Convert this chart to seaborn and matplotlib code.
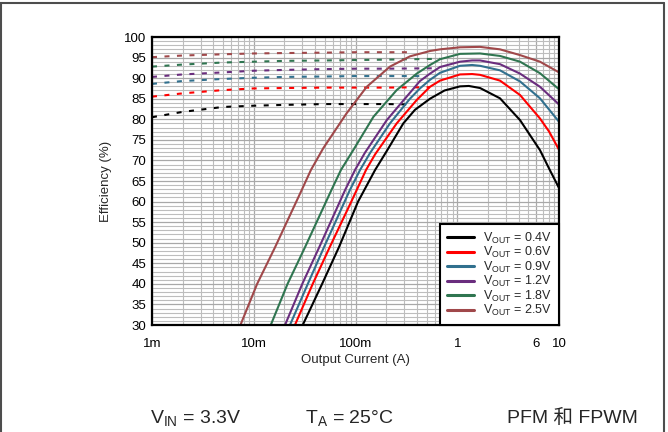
import numpy as np
import pandas as pd
import matplotlib
matplotlib.use("Agg")
import matplotlib.pyplot as plt
import seaborn as sns
from matplotlib.ticker import FixedLocator, LogLocator, NullFormatter, MultipleLocator
from matplotlib.lines import Line2D

# ---------------- data ----------------
series_names = ["0.4V", "0.6V", "0.9V", "1.2V", "1.8V", "2.5V"]
series_colors = ["#000000", "#FF0000", "#31708E", "#6A2D7E", "#2F7550", "#A0484A"]

# FPWM (solid) curves: current (A), efficiency (%)
i_04 = [0.0303, 0.047, 0.069, 0.106, 0.156, 0.203, 0.295, 0.384, 0.54, 0.75, 1.064, 1.3, 1.675, 2.63, 4.14, 6.5, 8.0, 10.0]
e_04 = [30, 40, 49, 60, 67.7, 72.3, 79.0, 82.3, 85.0, 87.0, 88.0, 88.1, 87.6, 85.1, 79.8, 72.5, 68.0, 63.3]

i_06 = [0.0254, 0.038, 0.056, 0.091, 0.127, 0.156, 0.254, 0.4, 0.54, 0.677, 1.064, 1.4, 1.675, 2.63, 4.14, 6.5, 8.0, 10.0]
e_06 = [30, 40, 49, 60, 67.7, 71.5, 79.0, 84.7, 87.9, 89.4, 90.9, 91.0, 90.8, 89.4, 85.9, 80.2, 77.0, 72.6]

i_09 = [0.0227, 0.034, 0.049, 0.088, 0.111, 0.139, 0.218, 0.343, 0.43, 0.54, 0.677, 1.064, 1.4, 1.675, 2.63, 4.14, 6.5, 10.0]
e_09 = [30, 40, 48.9, 62.8, 67.7, 71.8, 79.0, 85.0, 87.5, 89.6, 91.3, 93.0, 93.2, 93.0, 91.9, 89.2, 85.1, 79.4]

i_12 = [0.0203, 0.030, 0.044, 0.079, 0.099, 0.124, 0.203, 0.318, 0.43, 0.54, 0.677, 1.064, 1.4, 1.675, 2.63, 4.14, 6.5, 10.0]
e_12 = [30, 40, 48.9, 62.8, 67.7, 71.9, 79.8, 85.5, 89.3, 91.1, 92.7, 94.0, 94.3, 94.3, 93.4, 91.1, 87.9, 83.6]

i_18 = [0.0147, 0.0215, 0.0319, 0.058, 0.072, 0.095, 0.15, 0.254, 0.4, 0.54, 0.677, 1.064, 1.675, 2.63, 4.14, 6.5, 10.0]
e_18 = [30, 40, 48.9, 62.8, 67.7, 72.5, 80.6, 87.1, 91.1, 93.2, 94.6, 95.9, 96.0, 95.4, 94.0, 91.2, 87.3]

i_25 = [0.0074, 0.0108, 0.0162, 0.0296, 0.0365, 0.0483, 0.082, 0.129, 0.218, 0.343, 0.54, 0.677, 1.064, 1.675, 2.63, 4.14, 6.5, 10.0]
e_25 = [30, 40, 48.9, 62.8, 67.7, 73.0, 81.5, 87.9, 92.8, 95.3, 96.6, 97.0, 97.5, 97.6, 97.0, 95.6, 94.0, 91.4]

# PFM (dashed) curves
pfm_i_04 = [0.001, 0.002, 0.005, 0.01, 0.02, 0.05, 0.1, 0.2, 0.35]
pfm_e_04 = [80.5, 81.8, 83.0, 83.3, 83.5, 83.7, 83.7, 83.7, 83.6]
pfm_i_06 = [0.001, 0.002, 0.005, 0.01, 0.02, 0.05, 0.1, 0.2, 0.54]
pfm_e_06 = [85.5, 86.3, 87.1, 87.5, 87.6, 87.7, 87.7, 87.7, 87.8]
pfm_i_09 = [0.001, 0.002, 0.005, 0.01, 0.02, 0.05, 0.1, 0.2, 0.48]
pfm_e_09 = [88.6, 89.3, 89.8, 90.1, 90.3, 90.4, 90.5, 90.5, 90.5]
pfm_i_12 = [0.001, 0.002, 0.005, 0.01, 0.02, 0.05, 0.1, 0.2, 0.6]
pfm_e_12 = [90.3, 90.9, 91.4, 91.8, 92.0, 92.2, 92.3, 92.3, 92.4]
pfm_i_18 = [0.001, 0.002, 0.005, 0.01, 0.02, 0.05, 0.1, 0.2, 0.68]
pfm_e_18 = [92.8, 93.3, 93.8, 94.0, 94.2, 94.3, 94.4, 94.5, 94.7]
pfm_i_25 = [0.001, 0.002, 0.005, 0.01, 0.02, 0.05, 0.1, 0.2, 0.35]
pfm_e_25 = [95.1, 95.5, 95.8, 96.0, 96.1, 96.2, 96.3, 96.3, 96.3]

fpwm_i = [i_04, i_06, i_09, i_12, i_18, i_25]
fpwm_e = [e_04, e_06, e_09, e_12, e_18, e_25]
pfm_i = [pfm_i_04, pfm_i_06, pfm_i_09, pfm_i_12, pfm_i_18, pfm_i_25]
pfm_e = [pfm_e_04, pfm_e_06, pfm_e_09, pfm_e_12, pfm_e_18, pfm_e_25]

x_tick_vals = [0.001, 0.01, 0.1, 1, 6, 10]
x_tick_labels = ["1m", "10m", "100m", "1", "6", "10"]
y_tick_vals = list(range(30, 101, 5))

# ---------------- style ----------------
sns.set_style("white")
plt.rcParams["font.family"] = ["Liberation Sans", "Noto Sans CJK SC", "DejaVu Sans"]
plt.rcParams["mathtext.fontset"] = "custom"
plt.rcParams["mathtext.rm"] = "Liberation Sans"
plt.rcParams["mathtext.it"] = "Liberation Sans"

fig = plt.figure(figsize=(6.68, 4.32), dpi=100)
ax = fig.add_axes([152 / 668, 1 - 325 / 432, (559 - 152) / 668, (325 - 37) / 432])

lw = 1.5
handles = []
for name, col, xi, yi in zip(series_names, series_colors, pfm_i, pfm_e):
    df = pd.DataFrame({"I": xi, "E": yi})
    sns.lineplot(data=df, x="I", y="E", ax=ax, color=col, lw=lw, sort=False,
                 estimator=None, legend=False)
    ax.lines[-1].set_dashes((2.4, 3.6))
for name, col, xi, yi in zip(series_names, series_colors, fpwm_i, fpwm_e):
    df = pd.DataFrame({"I": xi, "E": yi})
    sns.lineplot(data=df, x="I", y="E", ax=ax, color=col, lw=lw, sort=False,
                 estimator=None, legend=False)
    handles.append(Line2D([0], [0], color=col, lw=2.2,
                          label=r"V$_{\mathregular{OUT}}$ = " + name))

ax.set_xscale("log")
ax.set_xlim(0.001, 10)
ax.set_ylim(30, 100)
ax.xaxis.set_major_locator(FixedLocator(x_tick_vals))
ax.set_xticklabels(x_tick_labels)
ax.xaxis.set_minor_locator(LogLocator(base=10, subs=np.arange(2, 10)))
ax.xaxis.set_minor_formatter(NullFormatter())
ax.yaxis.set_major_locator(FixedLocator(y_tick_vals))
ax.yaxis.set_minor_locator(MultipleLocator(1))
ax.tick_params(axis="both", which="both", length=0, labelsize=9.5, colors="black")
ax.tick_params(axis="x", pad=9.5)
ax.tick_params(axis="y", pad=4)
ax.grid(True, which="major", color="#A8A8A8", lw=0.9)
ax.grid(True, which="minor", color="#BDBDBD", lw=0.8)
ax.set_axisbelow(True)
for s in ax.spines.values():
    s.set_visible(True)
    s.set_color("black")
    s.set_linewidth(1.6)

ax.set_xlabel("Output Current (A)", fontsize=9.5, labelpad=3)
ax.set_ylabel("Efficiency (%)", fontsize=9.5, labelpad=9)

leg = ax.legend(handles=handles, loc="lower right", bbox_to_anchor=(1, 0),
                borderaxespad=0, fontsize=9, frameon=True, fancybox=False,
                handlelength=2.2, handletextpad=0.7, labelspacing=-0.05,
                borderpad=0.55)
leg.get_frame().set_edgecolor("black")
leg.get_frame().set_linewidth(1.5)
leg.get_frame().set_alpha(1)

# conditions line
fs_cond = 14
fig.text(150 / 668, 1 - 418 / 432, r"V$_{\mathregular{IN}}$ = 3.3V", fontsize=fs_cond, va="center", ha="left")
fig.text(305 / 668, 1 - 418 / 432, r"T$_{\mathregular{A}}$ = 25°C", fontsize=fs_cond, va="center", ha="left")
fig.text(638 / 668, 1 - 418 / 432, "PFM 和 FPWM", fontsize=fs_cond, va="center", ha="right")

# figure frame
frame_col = "#4D4D4D"
fig.add_artist(Line2D([0, 664 / 668], [1 - 3 / 432, 1 - 3 / 432], color=frame_col, lw=1.5, transform=fig.transFigure))
fig.add_artist(Line2D([1 / 668, 1 / 668], [0, 1 - 3 / 432], color=frame_col, lw=1.5, transform=fig.transFigure))
fig.add_artist(Line2D([664 / 668, 664 / 668], [0, 1 - 3 / 432], color=frame_col, lw=1.5, transform=fig.transFigure))

fig.savefig("out.png", dpi=100)
